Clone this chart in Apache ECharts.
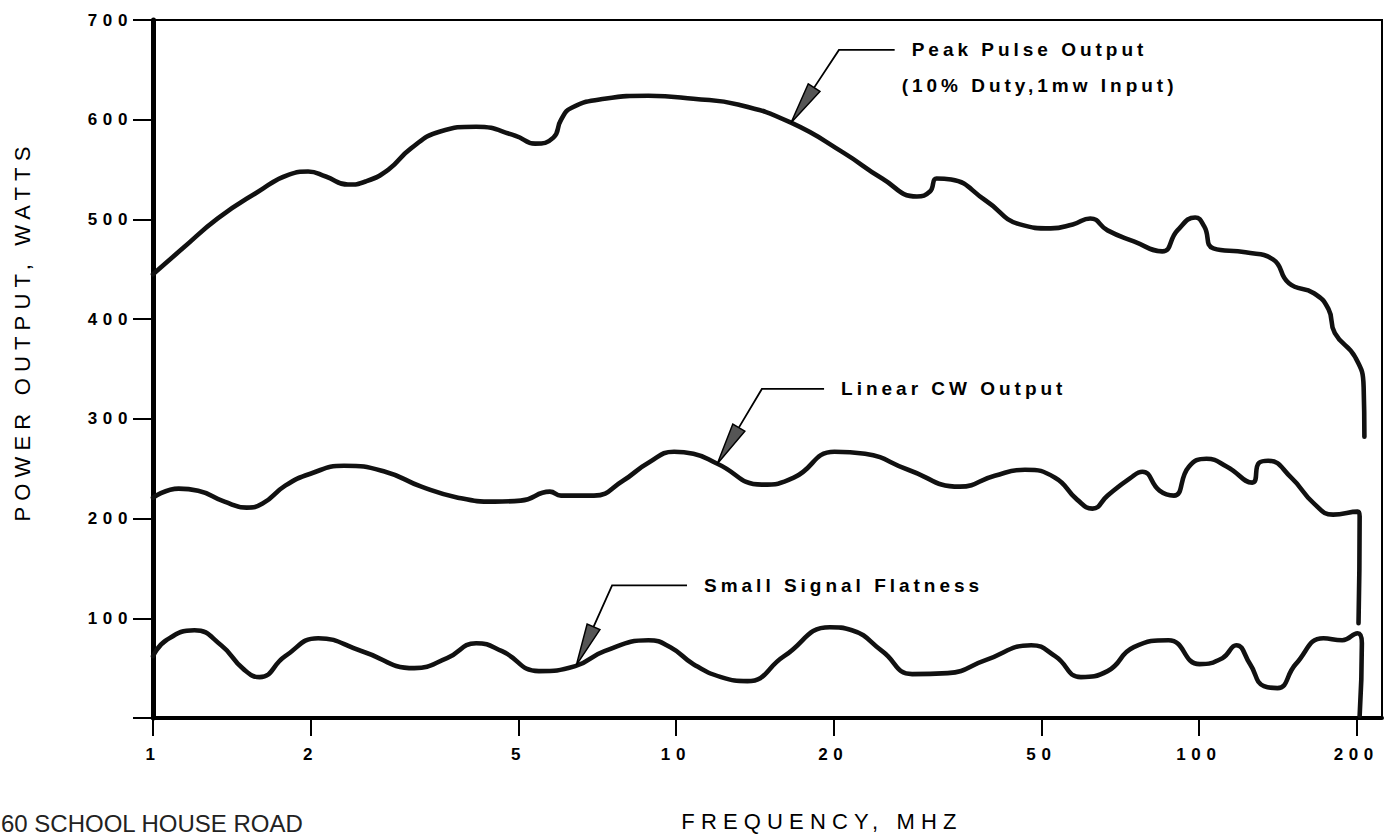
<!DOCTYPE html>
<html>
<head>
<meta charset="utf-8">
<style>
html,body{margin:0;padding:0;background:#fff;}
#c{width:1390px;height:836px;}
#c text{letter-spacing:0.33em;}
#c text[style*="22px"]{letter-spacing:0.28em;}
#c text[style*="19px"]{letter-spacing:0.21em;}
#c text[style*="24px"]{letter-spacing:0;}
</style>
<script src="https://cdn.jsdelivr.net/npm/echarts@6/dist/echarts.min.js"></script>
</head>
<body>
<div id="c"></div>
<script>
// ---- data (frequency in MHz, power in watts) ----
const freqTicks = [1, 2, 5, 10, 20, 50, 100, 200];

const peakFreq  = [1.0, 1.14, 1.33, 1.58, 1.82, 1.98, 2.14, 2.36, 2.55, 2.82, 3.11, 3.53, 4.15, 4.93, 5.38, 5.83, 6.03, 6.32, 7.3, 8.86, 10.8, 13.2, 16.6, 20.9, 24.8, 28.9, 30.6, 31.5, 33.6, 39.1, 45.5, 52.1, 57.4, 62.0, 66.9, 75.1, 85.1, 91.0, 98.4, 102.4, 106.6, 122.8, 138.6, 148.7, 166, 177, 182, 199, 206.6, 207.3];
const peakWatts = [445, 471, 501, 527, 545, 548, 543, 535, 538, 550, 571, 588, 593, 584, 576, 582, 600, 612, 621, 624, 621, 615, 597, 567, 541, 523, 528, 541, 540, 519, 495, 491, 495, 501, 489, 478, 468, 489, 502, 493, 471, 467, 460, 436, 426, 410, 386, 362, 332, 282];

const cwFreq  = [1.0, 1.12, 1.22, 1.37, 1.51, 1.62, 1.79, 2.0, 2.32, 2.78, 3.26, 3.83, 4.5, 5.05, 5.74, 6.03, 6.97, 7.92, 8.86, 9.92, 10.8, 12.0, 14.6, 16.8, 20.1, 23.0, 27.8, 34.9, 40.7, 46.5, 53.1, 58.5, 62.6, 66.9, 73.7, 78.0, 84.1, 89.6, 95.7, 103.4, 113.2, 126.5, 130.4, 135.7, 150.2, 166.1, 180.6, 201.2, 203, 202];
const cwWatts = [221, 230, 228, 217, 211, 215, 233, 245, 253, 247, 232, 221, 217, 218, 227, 223, 223, 238, 256, 267, 265, 255, 234, 241, 267, 265, 249, 232, 243, 249, 241, 219, 210, 223, 240, 247, 228, 223, 252, 260, 252, 236, 256, 258, 241, 215, 204, 207, 202, 95];

const ssFreq  = [1.0, 1.06, 1.2, 1.35, 1.49, 1.6, 1.79, 2.07, 2.51, 3.16, 3.65, 4.15, 4.65, 5.47, 6.42, 7.3, 8.86, 9.76, 10.8, 12.2, 13.7, 16.1, 19.7, 21.7, 24.8, 28.3, 33.1, 39.1, 47.8, 53.1, 59.5, 66.9, 75.1, 87.5, 100.3, 110.9, 117.9, 125.3, 133.2, 141.4, 153.2, 173.1, 188, 201.2, 205, 203];
const ssWatts = [62, 78, 88, 73, 49, 41, 62, 80, 67, 50, 60, 75, 67, 47, 52, 67, 78, 71, 54, 41, 37, 62, 91, 88, 67, 44, 45, 58, 73, 62, 41, 47, 71, 78, 54, 60, 73, 54, 32, 30, 54, 80, 78, 85, 75, 2];

// annotation arrows (data coordinates of tip, elbow and end of leader)
const annoText       = ['Peak Pulse Output', 'Linear CW Output', 'Small Signal Flatness'];
const annoSubText    = ['(10% Duty,1mw Input)', '', ''];
const annoTipFreq    = [16.6, 12.0, 6.45];
const annoTipWatts   = [597, 255, 53];
const annoElbowFreq  = [20.5, 14.6, 7.55];
const annoElbowWatts = [670, 330, 133];
const annoEndFreq    = [26.2, 19.2, 10.5];

const zip = (a, b) => a.map((v, i) => [v, b[i]]);

const chart = echarts.init(document.getElementById('c'), null, {renderer: 'svg'});

const curveStyle = {color: '#111', width: 4.6, cap: 'round', join: 'round'};
const lineSeries = (name, f, w) => ({
  name, type: 'line', data: zip(f, w), showSymbol: false, symbol: 'none',
  smooth: 0.5,
  lineStyle: curveStyle, itemStyle: {color: '#111'}, silent: true, z: 3
});

const annoData = annoText.map((t, i) => [annoTipFreq[i], annoTipWatts[i], annoElbowFreq[i], annoElbowWatts[i], annoEndFreq[i], i]);

const option = {
  animation: false,
  backgroundColor: '#fff',
  grid: {left: 153, top: 20, right: 8, bottom: 118, show: true, borderColor: '#000', borderWidth: 2, backgroundColor: 'transparent'},
  xAxis: {
    type: 'log', logBase: 10, min: 1, max: 224,
    axisLine: {show: true, onZero: false, lineStyle: {color: '#000', width: 4}},
    axisTick: {show: true, length: 18, lineStyle: {color: '#000', width: 2}, customValues: freqTicks},
    minorTick: {show: false},
    axisLabel: {show: true, margin: 28, color: '#000', fontSize: 17, fontWeight: 'bold', fontFamily: 'Liberation Sans, Arial, sans-serif',
      customValues: freqTicks, formatter: v => String(Math.round(v))},
    splitLine: {show: false}, minorSplitLine: {show: false}
  },
  yAxis: {
    type: 'value', min: 0, max: 700, interval: 100,
    axisLine: {show: true, lineStyle: {color: '#000', width: 5}},
    axisTick: {show: true, length: 20, lineStyle: {color: '#000', width: 2}},
    axisLabel: {margin: 20, color: '#000', fontSize: 17, fontWeight: 'bold', fontFamily: 'Liberation Sans, Arial, sans-serif',
      formatter: v => v === 0 ? '' : String(v)},
    splitLine: {show: false}
  },
  graphic: [
    {type: 'text', x: 22, y: 331, rotation: Math.PI / 2, silent: true,
      style: {text: 'POWER OUTPUT, WATTS', fill: '#000', font: '22px "Liberation Sans", Arial, sans-serif', align: 'center', verticalAlign: 'middle'}},
    {type: 'text', x: 822, y: 821, silent: true,
      style: {text: 'FREQUENCY, MHZ', fill: '#000', font: '22px "Liberation Sans", Arial, sans-serif', align: 'center', verticalAlign: 'middle'}},
    {type: 'text', x: 1, y: 823, silent: true,
      style: {text: '60 SCHOOL HOUSE ROAD', fill: '#222', font: '24px "Liberation Sans Narrow", "Liberation Sans", Arial, sans-serif', align: 'left', verticalAlign: 'middle'}}
  ],
  series: [
    lineSeries('Peak Pulse Output', peakFreq, peakWatts),
    lineSeries('Linear CW Output', cwFreq, cwWatts),
    lineSeries('Small Signal Flatness', ssFreq, ssWatts),
    {
      type: 'custom', coordinateSystem: 'cartesian2d', silent: true, clip: false, z: 4,
      data: annoData,
      renderItem: function (params, api) {
        const idx = api.value(5);
        const tip = api.coord([api.value(0), api.value(1)]);
        const elbow = api.coord([api.value(2), api.value(3)]);
        const end = api.coord([api.value(4), api.value(3)]);
        const dx = elbow[0] - tip[0], dy = elbow[1] - tip[1];
        const len = Math.hypot(dx, dy);
        const ux = dx / len, uy = dy / len;
        const L = 42, W = 7;
        const base = [tip[0] + ux * L, tip[1] + uy * L];
        const px = -uy, py = ux;
        const children = [
          {type: 'polyline', shape: {points: [base, elbow, end]}, style: {stroke: '#000', lineWidth: 1.8, fill: null}},
          {type: 'polygon', shape: {points: [tip, [base[0] + px * W, base[1] + py * W], [base[0] - px * W, base[1] - py * W]]},
            style: {fill: '#555', stroke: '#000', lineWidth: 1.5}},
          {type: 'text', x: end[0] + 17, y: end[1],
            style: {text: annoText[idx], fill: '#000', font: 'bold 19px "Liberation Sans", Arial, sans-serif', align: 'left', verticalAlign: 'middle'}}
        ];
        if (annoSubText[idx]) {
          children.push({type: 'text', x: end[0] + 7, y: end[1] + 36,
            style: {text: annoSubText[idx], fill: '#000', font: 'bold 19px "Liberation Sans", Arial, sans-serif', align: 'left', verticalAlign: 'middle'}});
        }
        return {type: 'group', children};
      }
    }
  ]
};
chart.setOption(option);
</script>
</body>
</html>
